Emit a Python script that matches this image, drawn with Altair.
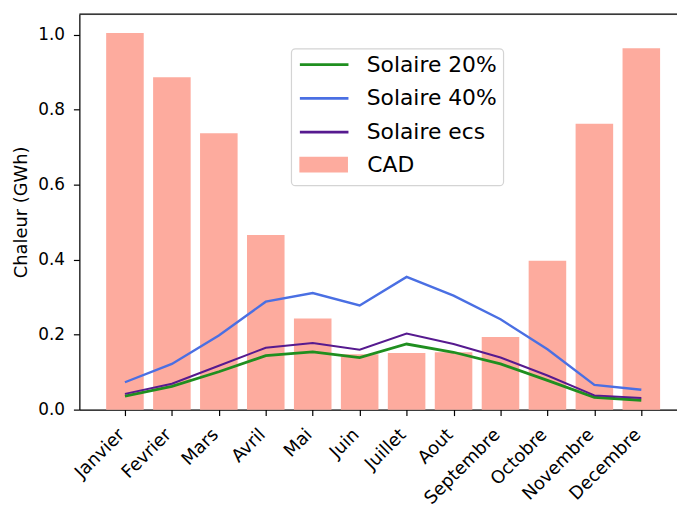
import altair as alt
import pandas as pd

months = ["Janvier", "Fevrier", "Mars", "Avril", "Mai", "Juin", "Juillet",
          "Aout", "Septembre", "Octobre", "Novembre", "Decembre"]
cad = [1.005, 0.887, 0.737, 0.466, 0.243, 0.148, 0.151, 0.153, 0.194, 0.397, 0.763, 0.964]
solaire_20 = [0.036, 0.062, 0.101, 0.144, 0.154, 0.139, 0.175, 0.153, 0.122, 0.078, 0.033, 0.025]
solaire_40 = [0.073, 0.122, 0.198, 0.288, 0.311, 0.278, 0.354, 0.304, 0.241, 0.161, 0.066, 0.053]
solaire_ecs = [0.042, 0.069, 0.117, 0.165, 0.178, 0.160, 0.203, 0.175, 0.139, 0.091, 0.038, 0.031]

line_names = ["Solaire 20%", "Solaire 40%", "Solaire ecs"]
line_colors = ["#1f8f1f", "#4a6fe3", "#561a8f"]
line_widths = [2.8, 2.0, 2.8]
bar_name = "CAD"
bar_color = "#fdab9e"

rows = []
for name, vals in zip(line_names + [bar_name], [solaire_20, solaire_40, solaire_ecs, cad]):
    for i, v in enumerate(vals):
        rows.append({"idx": i, "mois": months[i], "serie": name, "valeur": v})
df = pd.DataFrame(rows)

W, H = 603, 399
FONT = "DejaVu Sans"

month_expr = "[" + ",".join("'%s'" % m for m in months) + "][datum.value]"

xscale = alt.Scale(domain=[-0.971, 11.76], nice=False, zero=False)
yscale = alt.Scale(domain=[0, 1.055], nice=False)

legend_common = dict(
    title=None, orient="none", labelFont=FONT, labelFontSize=22, labelColor="black",
    symbolSize=1697, rowPadding=1, padding=0,
)

base = alt.Chart(df)

legend_box = alt.Chart(pd.DataFrame({"a": [0]})).mark_rect(
    fill="white", stroke="#d4d4d4", strokeWidth=1.2, cornerRadius=4
).encode(x=alt.value(214), x2=alt.value(428), y=alt.value(35), y2=alt.value(173))

bars = base.transform_filter(alt.datum.serie == bar_name).transform_calculate(
    x0="datum.idx - 0.4", x1="datum.idx + 0.4", zero="0"
).mark_bar(opacity=1).encode(
    x=alt.X("x0:Q", scale=xscale, axis=alt.Axis(
        values=list(range(12)), labelExpr=month_expr, title=None,
        labelAngle=-45, labelAlign="right", labelBaseline="top",
        labelFont=FONT, labelFontSize=18, labelColor="black", labelPadding=10,
        labelOffset=-10,
        tickSize=6, tickColor="black", tickWidth=1.2,
        domainColor="black", domainWidth=1.2, grid=False, labelOverlap=False,
        labelBound=False, labelFlush=False)),
    x2="x1:Q",
    y=alt.Y("valeur:Q", scale=yscale, axis=alt.Axis(
        values=[0, 0.2, 0.4, 0.6, 0.8, 1.0], format=".1f", title="Chaleur (GWh)",
        titleFont=FONT, titleFontSize=18, titleFontWeight="normal", titleColor="black",
        titlePadding=7,
        labelFont=FONT, labelFontSize=17, labelColor="black", labelPadding=9,
        tickSize=6, tickColor="black", tickWidth=1.2,
        domainColor="black", domainWidth=1.2, grid=False, labelFlush=False)),
    y2=alt.Y2("zero:Q"),
    fill=alt.Fill("serie:N", scale=alt.Scale(domain=[bar_name], range=[bar_color]),
                  legend=alt.Legend(legendX=225.5, legendY=130.8, labelOffset=23,
                                    symbolType="M-1.19,-0.38H1.19V0.38H-1.19Z",
                                    symbolStrokeWidth=0, symbolOpacity=1,
                                    **legend_common)),
)

lines = base.transform_filter(alt.datum.serie != bar_name).mark_line().encode(
    x=alt.X("idx:Q", scale=xscale),
    y=alt.Y("valeur:Q", scale=yscale),
    color=alt.Color("serie:N", scale=alt.Scale(domain=line_names, range=line_colors),
                    legend=alt.Legend(legendX=225, legendY=29, labelOffset=21,
                                      symbolType="M-1.19,0H1.19",
                                      symbolFillColor="transparent",
                                      symbolStrokeWidth=2.8, **legend_common)),
    strokeWidth=alt.StrokeWidth("serie:N", scale=alt.Scale(domain=line_names, range=line_widths),
                                legend=None),
)

top_spine = alt.Chart(pd.DataFrame({"a": [0]})).mark_rule(color="black", strokeWidth=1.2).encode(
    x=alt.value(0), x2=alt.value(W), y=alt.value(0)
)

chart = alt.layer(bars, lines, legend_box, top_spine).properties(
    width=W, height=H,
    autosize=alt.AutoSizeParams(type="none"),
    padding={"left": 72, "top": 4, "right": 0, "bottom": 94},
).resolve_scale(color="independent").configure_view(stroke=None).configure(font=FONT)

chart.save("out.html", embed_options={"renderer": "svg", "actions": False})
